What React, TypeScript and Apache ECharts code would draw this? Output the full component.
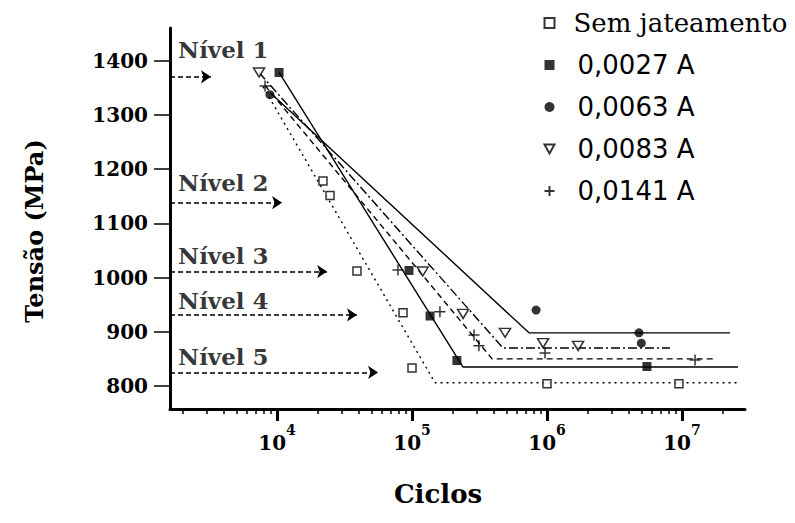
import React, { useEffect, useRef } from "react";
import * as echarts from "echarts";

// ---- data (cycles, MPa) ----
const seriesNames = ["Sem jateamento", "0,0027 A", "0,0063 A", "0,0083 A", "0,0141 A"];

const semJateamento = [
  [21900, 1178], [24700, 1151], [39100, 1012], [85800, 935], [100000, 833], [1000000, 804], [9500000, 804],
];
const a0027 = [
  [10350, 1378], [95000, 1013], [136000, 929], [215000, 847], [5500000, 836],
];
const a0063 = [
  [8870, 1337], [830000, 940], [4800000, 898], [5000000, 879],
];
const a0083 = [
  [7360, 1378], [120000, 1011], [239000, 933], [489000, 898], [935000, 879], [1700000, 874],
];
const a0141 = [
  [8150, 1353], [78700, 1014], [161000, 937], [288000, 894], [313000, 874], [967000, 861], [12500000, 848],
];

// fitted curves (knee + endurance plateau)
const fitSem = [[7870, 1352], [148000, 806], [26000000, 806]];
const fit0027 = [[10350, 1378], [239000, 835], [26000000, 835]];
const fit0063 = [[8870, 1341], [736000, 898], [22700000, 898]];
const fit0083 = [[7360, 1378], [472000, 870], [8150000, 870]];
const fit0141 = [[8150, 1354], [392000, 850], [17500000, 850]];

// stress levels
const nivelNames = ["Nível 1", "Nível 2", "Nível 3", "Nível 4", "Nível 5"];
const nivelStress = [1370, 1138, 1011, 931, 825];
const nivelArrowEnd = [3240, 10900, 23500, 39100, 56000];
const nivelLabelStress = [1420, 1175, 1040, 957, 855];
const nivelLabelCycles = 1850;

// axes
const yTicks = [800, 900, 1000, 1100, 1200, 1300, 1400];
const xDecadeExponents = [4, 5, 6, 7];
const X_MIN = 1611;
const X_MAX = 2.93e7;
const Y_MIN = 757.6;
const Y_MAX = 1460;

const lx = (v: number) => Math.log10(v);
const toXY = (arr: number[][]) => arr.map(([c, s]) => [lx(c), s]);

const minorTicks: number[] = [];
for (let e = 3; e <= 7; e++) {
  for (let k = 2; k <= 9; k++) {
    const v = Math.log10(k * Math.pow(10, e));
    if (v > lx(X_MIN) && v < lx(X_MAX)) minorTicks.push(v);
  }
}

const SERIF = "DejaVu Serif";
const SANS = "DejaVu Sans";
const TRI_DOWN = "path://M0,0L10,0L5,9Z";
const PLUS = "path://M0,5L10,5M5,0L5,10";

export default function App() {
  const ref = useRef<HTMLDivElement>(null);

  useEffect(() => {
    if (!ref.current) return;
    const chart = echarts.init(ref.current, null, { renderer: "svg" });

    const fitLine = (name: string, data: number[][], type: any) => ({
      name,
      type: "line",
      data: toXY(data),
      symbol: "none",
      silent: true,
      lineStyle: { color: "#000", width: 1.4, type },
      z: 2,
    });

    const option: any = {
      animation: false,
      backgroundColor: "#fff",
      grid: { left: 170, right: 50, top: 28, bottom: 114, containLabel: false },
      legend: {
        orient: "vertical",
        left: 542,
        top: 10,
        itemGap: 16,
        itemWidth: 10,
        itemHeight: 10,
        padding: 0,
        data: [
          { name: seriesNames[0], icon: "rect" },
          { name: seriesNames[1], icon: "rect" },
          { name: seriesNames[2], icon: "circle" },
          { name: seriesNames[3], icon: TRI_DOWN },
          { name: seriesNames[4], icon: PLUS },
        ],
        formatter: (name: string) => (name === "Sem jateamento" ? `{serif|${name}}` : `{sans|${name}}`),
        textStyle: {
          color: "#000",
          rich: {
            serif: { fontFamily: SERIF, fontSize: 26, color: "#000", padding: [0, 0, 0, 14] },
            sans: { fontFamily: SANS, fontSize: 26, color: "#000", padding: [0, 0, 0, 18] },
          },
        },
      },
      xAxis: [
        {
          type: "value",
          min: lx(X_MIN),
          max: lx(X_MAX),
          position: "bottom",
          splitLine: { show: false },
          axisLine: { show: true, lineStyle: { color: "#000", width: 3 } },
          axisTick: { show: true, customValues: xDecadeExponents, length: 12, lineStyle: { color: "#000", width: 3 } },
          axisLabel: {
            customValues: xDecadeExponents,
            margin: 14,
            formatter: (v: number) => `{b|10}{s|${Math.round(v)}}`,
            rich: {
              b: { fontFamily: SERIF, fontWeight: "bold", fontSize: 20, color: "#000", lineHeight: 30, verticalAlign: "bottom" },
              s: { fontFamily: SERIF, fontWeight: "bold", fontSize: 14, color: "#000", lineHeight: 30, verticalAlign: "top" },
            },
          },
          name: "Ciclos",
          nameLocation: "middle",
          nameGap: 72,
          nameTextStyle: { fontFamily: SERIF, fontWeight: "bold", fontSize: 26, color: "#000", padding: [0, 39, 0, 0] },
        },
        {
          type: "value",
          min: lx(X_MIN),
          max: lx(X_MAX),
          position: "bottom",
          splitLine: { show: false },
          axisLine: { show: false },
          axisLabel: { show: false },
          axisTick: { show: true, customValues: minorTicks, length: 5, lineStyle: { color: "#000", width: 1.5 } },
        },
      ],
      yAxis: {
        type: "value",
        min: Y_MIN,
        max: Y_MAX,
        splitLine: { show: false },
        axisLine: { show: true, lineStyle: { color: "#000", width: 3 } },
        axisTick: { show: true, customValues: yTicks, length: 16, lineStyle: { color: "#000", width: 1.5 } },
        axisLabel: {
          customValues: yTicks,
          margin: 22,
          formatter: (v: number) => String(Math.round(v)),
          fontFamily: SERIF,
          fontWeight: "bold",
          fontSize: 20,
          color: "#000",
        },
        name: "Tensão (MPa)",
        nameLocation: "middle",
        nameGap: 124,
        nameTextStyle: { fontFamily: SERIF, fontWeight: "bold", fontSize: 24, color: "#000", padding: [0, 25, 0, 0] },
      },
      series: [
        fitLine("fitSem", fitSem, [2, 4]),
        fitLine("fit0027", fit0027, "solid"),
        fitLine("fit0063", fit0063, "solid"),
        fitLine("fit0083", fit0083, [9, 3, 2, 3]),
        fitLine("fit0141", fit0141, [6, 4]),
        {
          name: "Sem jateamento",
          type: "scatter",
          data: toXY(semJateamento),
          symbol: "rect",
          symbolSize: 8,
          itemStyle: { color: "#fff", borderColor: "#000", borderWidth: 1.5 },
          z: 5,
        },
        {
          name: "0,0027 A",
          type: "scatter",
          data: toXY(a0027),
          symbol: "rect",
          symbolSize: 9,
          itemStyle: { color: "#000" },
          z: 5,
        },
        {
          name: "0,0063 A",
          type: "scatter",
          data: toXY(a0063),
          symbol: "circle",
          symbolSize: 9,
          itemStyle: { color: "#000" },
          z: 5,
        },
        {
          name: "0,0083 A",
          type: "scatter",
          data: toXY(a0083),
          symbol: TRI_DOWN,
          symbolSize: [11, 9],
          itemStyle: { color: "#fff", borderColor: "#000", borderWidth: 1.5 },
          z: 5,
        },
        {
          name: "0,0141 A",
          type: "scatter",
          data: toXY(a0141),
          symbol: PLUS,
          symbolSize: 11,
          itemStyle: { color: "none", borderColor: "#000", borderWidth: 1.5 },
          z: 5,
        },
        {
          name: "niveisArrows",
          type: "line",
          data: [],
          silent: true,
          markLine: {
            silent: true,
            animation: false,
            symbol: ["none", "arrow"],
            symbolSize: 10,
            label: { show: false },
            lineStyle: { color: "#000", width: 1.5, type: [5, 3] },
            emphasis: { disabled: true },
            data: nivelStress.map((s, i) => [
              { coord: [lx(X_MIN), s], symbol: "none" },
              { coord: [lx(nivelArrowEnd[i]), s], symbol: "arrow", symbolSize: 10 },
            ]),
          },
        },
        {
          name: "niveisLabels",
          type: "scatter",
          silent: true,
          symbolSize: 0,
          data: nivelNames.map((n, i) => [lx(nivelLabelCycles), nivelLabelStress[i], n]),
          label: {
            show: true,
            position: "right",
            distance: 0,
            formatter: (p: any) => p.data[2],
            fontFamily: SERIF,
            fontWeight: "bold",
            fontSize: 23,
            color: "#000",
          },
        },
      ],
    };

    chart.setOption(option);
    return () => chart.dispose();
  }, []);

  return (
    <div
      ref={ref}
      style={{ position: "absolute", left: 0, top: 0, width: 795, height: 523, background: "#fff" }}
    />
  );
}
